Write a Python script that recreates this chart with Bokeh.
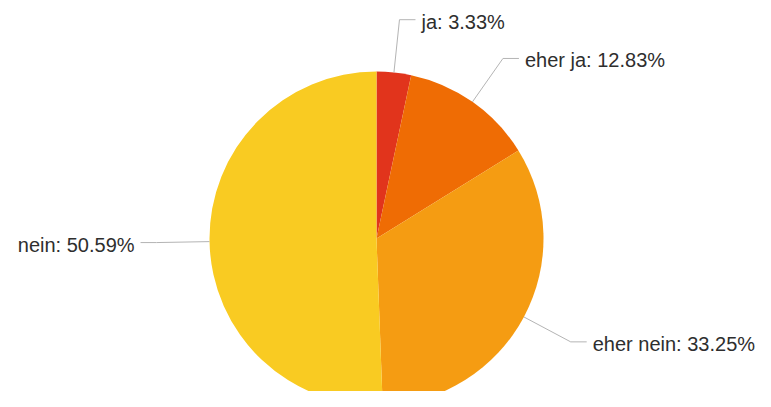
import math
from bokeh.plotting import figure
from bokeh.models import Range1d, ColumnDataSource
from bokeh.core.properties import value
from bokeh.embed import file_html
from bokeh.resources import INLINE

categories = ["ja", "eher ja", "eher nein", "nein"]
shares = [3.33, 12.83, 33.25, 50.59]
colors = ["#e1341c", "#ef6c04", "#f59c12", "#f9cb22"]

W, H = 755, 391
cx, cy = 376, H - 238
R = 167
R_OUT = 220
ELBOW = 16
GAP = 6

total = sum(shares)
starts, ends, mids = [], [], []
cum = 0.0
for s in shares:
    a0 = math.pi / 2 - 2 * math.pi * cum / total
    cum += s
    a1 = math.pi / 2 - 2 * math.pi * cum / total
    starts.append(a0)
    ends.append(a1)
    mids.append((a0 + a1) / 2)

wedges = ColumnDataSource(dict(start=starts, end=ends, color=colors))

xs, ys, tx, ty, labels, aligns = [], [], [], [], [], []
for cat, s, m in zip(categories, shares, mids):
    ex, ey = cx + R * math.cos(m), cy + R * math.sin(m)
    ox, oy = cx + R_OUT * math.cos(m), cy + R_OUT * math.sin(m)
    side = 1 if math.cos(m) >= 0 else -1
    xs.append([ex, ox, ox + side * ELBOW])
    ys.append([ey, oy, oy])
    tx.append(ox + side * (ELBOW + GAP))
    ty.append(oy - 2)
    labels.append(f"{cat}: {s:.2f}%")
    aligns.append("left" if side > 0 else "right")

lines = ColumnDataSource(dict(xs=xs, ys=ys))
texts = ColumnDataSource(dict(x=tx, y=ty, text=labels, align=aligns))

p = figure(width=W, height=H, output_backend="svg", toolbar_location=None,
           x_range=Range1d(0, W), y_range=Range1d(0, H),
           x_axis_location=None, y_axis_location=None,
           min_border=0, outline_line_color=None)
p.grid.visible = False
p.background_fill_color = "white"
p.border_fill_color = "white"

p.wedge(x=cx, y=cy, radius=R, start_angle="start", end_angle="end",
        direction="clock", fill_color="color", line_color=None, source=wedges)
p.multi_line(xs="xs", ys="ys", line_color="#b4b4b4", line_width=1, source=lines)
p.text(x="x", y="y", text="text", text_align="align", text_baseline="middle",
       text_font=value("Liberation Sans"), text_font_size="20px",
       text_color="#2e2e2e", source=texts)

open("out.html", "w").write(file_html(p, INLINE))
